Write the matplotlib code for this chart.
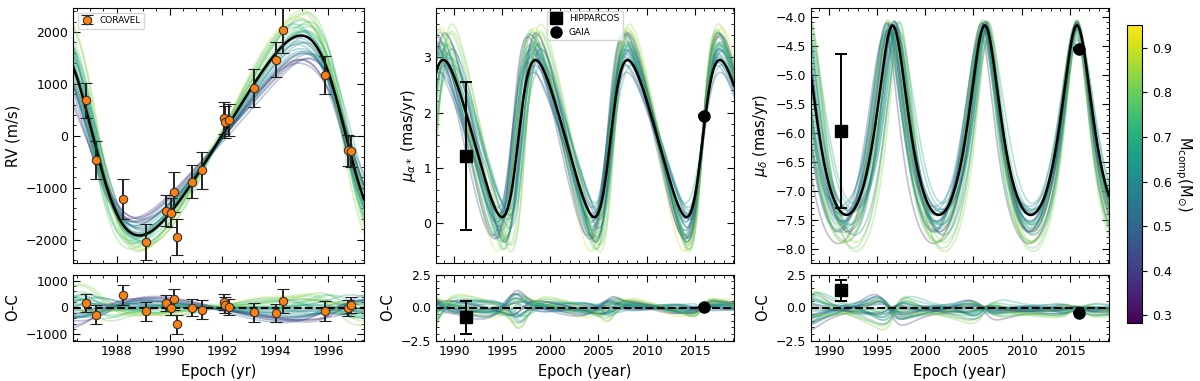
import numpy as np
import matplotlib
matplotlib.use('Agg')
import matplotlib.pyplot as plt
from matplotlib.colors import Normalize

rv_epoch = [1986.84, 1987.22, 1988.23, 1989.10, 1989.85, 1990.05, 1990.17, 1990.27,
            1990.85, 1991.21, 1992.07, 1992.09, 1992.23, 1993.20, 1994.03, 1994.29,
            1995.89, 1996.76, 1996.85]
rv_val = [686, -474, -1212, -2051, -1442, -1481, -1083, -1949, -885, -667,
          346, 263, 301, 917, 1468, 2038, 1167, -276, -295]
rv_err = [337, 365, 385, 343, 300, 282, 390, 346, 320, 360,
          305, 305, 305, 365, 337, 450, 365, 300, 300]
rv_oc = [158, -267, 461, -145, 158, 0, 315, -630, 0, -85,
         194, 97, 24, -182, -194, 255, -121, -24, 97]

hip_epoch = 1991.25
gaia_epoch = 2016.0
pmra_hip, pmra_hip_err = 1.22, 1.34
pmra_gaia, pmra_gaia_err = 1.94, 0.02
pmra_oc_hip, pmra_oc_hip_err = -0.75, 1.28
pmra_oc_gaia = 0.05
pmdec_hip, pmdec_hip_err = -5.97, 1.33
pmdec_gaia, pmdec_gaia_err = -4.56, 0.02
pmdec_oc_hip, pmdec_oc_hip_err = 1.32, 0.79
pmdec_oc_gaia = -0.39

# ---- best-fit orbit ----
per0, ecc0, tp0 = 9.57, 0.22, 2015.74
rv_amp, rv_phi, rv_off = 1925.0, 86.0, 5.0
ra_amp, ra_phi, ra_off = 1.42, -95.0, 1.53
dec_amp, dec_phi, dec_peak = 1.635, 0.0, -4.15
rv_anchor, pm_anchor = 1992.0, 2016.0

# ---- posterior sample orbits ----
mass = [0.62, 0.71, 0.55, 0.74, 0.45, 0.66, 0.80, 0.58, 0.72, 0.38, 0.69, 0.52, 0.84, 0.61, 0.76, 0.48,
        0.64, 0.78, 0.57, 0.70, 0.42, 0.67, 0.90, 0.54, 0.77, 0.60, 0.68, 0.35, 0.73, 0.63, 0.82, 0.50]
d_per = [0.13, -0.20, 0.31, -0.07, 0.38, -0.31, 0.06, 0.22, -0.15, 0.32, -0.25, 0.18, -0.35, 0.00, 0.25, -0.13,
         0.10, -0.28, 0.20, -0.06, 0.28, -0.22, 0.15, -0.32, 0.07, -0.18, 0.35, -0.10, 0.03, 0.22, -0.38, 0.15]
d_ecc = [0.03, -0.045, 0.075, 0.0, -0.06, 0.045, 0.09, -0.03, 0.015, 0.06, -0.075, 0.03, 0.045, -0.015, 0.075, 0.1,
         -0.045, 0.03, 0.0, 0.06, -0.03, 0.09, -0.06, 0.015, 0.045, 0.075, -0.015, 0.03, 0.1, -0.045, 0.06, 0.0]
d_tp = [0.03, -0.04, 0.01, 0.05, -0.02, 0.04, -0.05, 0.01, 0.04, -0.03, 0.02, -0.01, 0.05, -0.03, 0.00, 0.06,
        -0.05, 0.02, -0.01, 0.03, -0.06, 0.03, -0.02, 0.04, -0.03, 0.01, 0.05, -0.04, 0.02, -0.01, 0.01, 0.03]
s_rv = [-0.05, 0.08, -0.16, 0.12, -0.22, 0.02, 0.18, -0.10, 0.05, -0.20, 0.10, -0.14, 0.20, -0.02, 0.07, -0.18,
        -0.08, 0.14, -0.12, 0.04, -0.19, 0.00, 0.16, -0.06, 0.09, -0.13, 0.03, -0.21, 0.11, -0.04, 0.19, -0.15]
d_rv = [-40, 10, -40, 60, -110, 20, 90, -60, 0, -60, 30, -80, 100, -10, 40, -90,
        -20, 50, -70, 20, -100, -10, 50, -20, 40, -60, 20, -60, 50, -30, 60, -50]
s_ra = [0.05, 0.25, -0.08, 0.32, 0.18, 0.00, 0.40, 0.12, 0.22, 0.28, -0.12, 0.08, 0.45, 0.15, 0.30, -0.02,
        0.20, 0.35, 0.10, 0.24, 0.30, 0.03, 0.42, 0.14, 0.27, -0.05, 0.21, 0.33, 0.38, 0.06, 0.36, -0.10]
d_ra = [0.03, -0.05, 0.06, 0.00, -0.08, 0.04, -0.02, 0.07, -0.04, 0.02, 0.08, -0.06, 0.01, -0.03, 0.05, -0.07,
        0.04, -0.01, 0.06, -0.05, 0.03, 0.07, -0.02, 0.00, -0.06, 0.05, -0.03, 0.02, -0.04, 0.06, 0.01, -0.08]
s_dec = [0.01, 0.07, -0.03, 0.10, 0.04, -0.01, 0.14, 0.02, 0.06, 0.09, -0.08, 0.00, 0.16, 0.03, 0.08, -0.04,
         0.05, 0.12, 0.01, 0.07, 0.10, -0.02, 0.17, 0.03, 0.08, 0.00, 0.05, 0.11, 0.13, -0.01, 0.15, 0.02]
d_dec = [0.02, -0.10, 0.05, 0.08, -0.15, 0.06, -0.02, -0.08, 0.03, -0.20, -0.06, 0.01, 0.05, -0.12, 0.09, -0.04,
         0.04, -0.18, -0.07, 0.06, 0.03, -0.02, 0.08, -0.25, -0.04, 0.05, -0.09, 0.07, -0.03, 0.04, -0.14, -0.05]


def true_anomaly(t, per, ecc, tp, anchor):
    # mean anomaly pinned to the best-fit phase at the anchor epoch
    M = 2 * np.pi * ((t - anchor) / per + (anchor - tp) / per0)
    E = M.copy()
    for _ in range(40):
        E = E - (E - ecc * np.sin(E) - M) / (1 - ecc * np.cos(E))
    return 2 * np.arctan2(np.sqrt(1 + ecc) * np.sin(E / 2), np.sqrt(1 - ecc) * np.cos(E / 2))


def orbit_curve(t, per, ecc, tp, anchor, amp, phi, off):
    return off + amp * np.cos(true_anomaly(t, per, ecc, tp, anchor) + np.radians(phi))


plt.rcParams['font.size'] = 9
plt.rcParams['axes.labelsize'] = 10.5

fig = plt.figure(figsize=(12, 3.81), dpi=100)
W, H = 1200.0, 381.0


def box(x0, x1, y0, y1):
    return [x0 / W, 1 - y1 / H, (x1 - x0) / W, (y1 - y0) / H]


ax_rv = fig.add_axes(box(73, 364, 8, 263))
ax_rvr = fig.add_axes(box(73, 364, 274.5, 340.5))
ax_ra = fig.add_axes(box(436, 734, 8, 263))
ax_rar = fig.add_axes(box(436, 734, 274.5, 340.5))
ax_de = fig.add_axes(box(811, 1109, 8, 263))
ax_der = fig.add_axes(box(811, 1109, 274.5, 340.5))
cax = fig.add_axes(box(1127, 1142, 25, 323))

cmap = plt.get_cmap('viridis')
norm = Normalize(vmin=0.283, vmax=0.951)

rv_xlim = (1986.35, 1997.35)
pm_xlim = (1988.13, 2019.07)
t_rv = np.linspace(rv_xlim[0], rv_xlim[1], 800)
t_pm = np.linspace(pm_xlim[0], pm_xlim[1], 1500)

best_rv = orbit_curve(t_rv, per0, ecc0, tp0, rv_anchor, rv_amp, rv_phi, rv_off)
best_ra = orbit_curve(t_pm, per0, ecc0, tp0, pm_anchor, ra_amp, ra_phi, ra_off)
best_de = orbit_curve(t_pm, per0, ecc0, tp0, pm_anchor, dec_amp, dec_phi, dec_peak - dec_amp)

for k in range(len(mass)):
    c = cmap(norm(mass[k]))
    P = per0 + d_per[k]
    e = ecc0 + d_ecc[k]
    tp = tp0 + d_tp[k]
    rv = orbit_curve(t_rv, P, e, tp, rv_anchor, rv_amp * (1 + s_rv[k]), rv_phi, rv_off + d_rv[k])
    ra = orbit_curve(t_pm, P, e, tp, pm_anchor, ra_amp * (1 + s_ra[k]), ra_phi, ra_off + d_ra[k])
    a_de = dec_amp * (1 + s_dec[k])
    de = orbit_curve(t_pm, P, e, tp, pm_anchor, a_de, dec_phi, dec_peak + d_dec[k] - a_de)
    kw = dict(color=c, alpha=0.33, lw=1.2)
    ax_rv.plot(t_rv, rv, **kw)
    ax_rvr.plot(t_rv, rv - best_rv, **kw)
    ax_ra.plot(t_pm, ra, **kw)
    ax_rar.plot(t_pm, ra - best_ra, **kw)
    ax_de.plot(t_pm, de, **kw)
    ax_der.plot(t_pm, de - best_de, **kw)

ax_rv.plot(t_rv, best_rv, color='k', lw=1.8)
ax_ra.plot(t_pm, best_ra, color='k', lw=1.8)
ax_de.plot(t_pm, best_de, color='k', lw=1.8)
for ax in (ax_rvr, ax_rar, ax_der):
    ax.axhline(0, color='k', ls='--', lw=1.5)

ekw = dict(fmt='o', mfc='#ff7f0e', mec='#333333', ms=6, ecolor='#222222',
           elinewidth=1.4, capsize=4, capthick=1.4, mew=0.8)
ax_rv.errorbar(rv_epoch, rv_val, yerr=rv_err, label='CORAVEL', zorder=5, **ekw)
ax_rvr.errorbar(rv_epoch, rv_oc, yerr=rv_err, zorder=5, **ekw)

hkw = dict(color='k', ecolor='k', elinewidth=1.4, capsize=4, capthick=1.4, zorder=5, ms=8)
ax_ra.errorbar(hip_epoch, pmra_hip, yerr=pmra_hip_err, fmt='s', **hkw)
ax_ra.errorbar(gaia_epoch, pmra_gaia, yerr=pmra_gaia_err, fmt='o', **hkw)
ax_rar.errorbar(hip_epoch, pmra_oc_hip, yerr=pmra_oc_hip_err, fmt='s', **hkw)
ax_rar.errorbar(gaia_epoch, pmra_oc_gaia, yerr=0.02, fmt='o', **hkw)
ax_de.errorbar(hip_epoch, pmdec_hip, yerr=pmdec_hip_err, fmt='s', **hkw)
ax_de.errorbar(gaia_epoch, pmdec_gaia, yerr=pmdec_gaia_err, fmt='o', **hkw)
ax_der.errorbar(hip_epoch, pmdec_oc_hip, yerr=pmdec_oc_hip_err, fmt='s', **hkw)
ax_der.errorbar(gaia_epoch, pmdec_oc_gaia, yerr=0.02, fmt='o', **hkw)
ax_ra.plot([], [], 's', color='k', ms=8, label='HIPPARCOS')
ax_ra.plot([], [], 'o', color='k', ms=8, label='GAIA')

ax_rv.legend(loc='upper left', fontsize=6.5, handlelength=1.2)
ax_ra.legend(loc='upper center', fontsize=6.5, handlelength=1.2, borderaxespad=0.3)

ax_rv.set_xlim(rv_xlim)
ax_rvr.set_xlim(rv_xlim)
ax_rv.set_ylim(-2450, 2460)
ax_rvr.set_ylim(-1230, 1230)
ax_rv.set_ylabel('RV (m/s)')
ax_rvr.set_ylabel('O-C')
ax_rvr.set_xlabel('Epoch (yr)')
ax_rvr.set_xticks([1988, 1990, 1992, 1994, 1996])

for ax in (ax_ra, ax_rar, ax_de, ax_der):
    ax.set_xlim(pm_xlim)
ax_ra.set_ylim(-0.72, 3.89)
ax_ra.set_yticks([0, 1, 2, 3])
ax_de.set_ylim(-8.25, -3.85)
ax_de.set_yticks(np.arange(-8.0, -3.9, 0.5))
for ax in (ax_rar, ax_der):
    ax.set_ylim(-2.5, 2.5)
    ax.set_yticks([-2.5, 0.0, 2.5])
    ax.set_ylabel('O-C')
    ax.set_xlabel('Epoch (year)')
ax_ra.set_ylabel(r'$\mu_{\alpha*}$ (mas/yr)')
ax_de.set_ylabel(r'$\mu_{\delta}$ (mas/yr)')

for ax in (ax_rv, ax_rvr, ax_ra, ax_rar, ax_de, ax_der):
    ax.minorticks_on()
    ax.tick_params(which='both', direction='in', top=True, right=True)
    ax.tick_params(which='major', length=5)
    ax.tick_params(which='minor', length=2.5)
for ax in (ax_rv, ax_ra, ax_de):
    ax.tick_params(labelbottom=False)

sm = matplotlib.cm.ScalarMappable(norm=norm, cmap=cmap)
cb = fig.colorbar(sm, cax=cax)
cb.set_ticks([0.3, 0.4, 0.5, 0.6, 0.7, 0.8, 0.9])
cb.set_label(r'M$_{\rm comp}$(M$_{\odot}$)', rotation=270, labelpad=16)

fig.savefig('out.png', dpi=100)
